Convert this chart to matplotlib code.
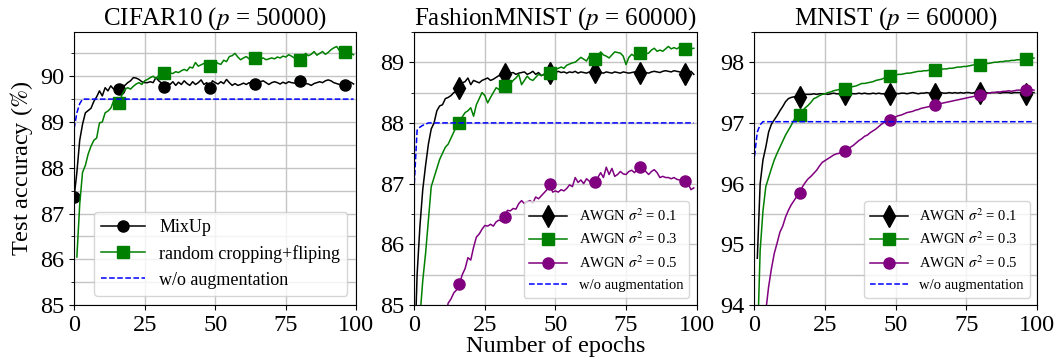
import numpy as np
import matplotlib
matplotlib.use("Agg")
import matplotlib.pyplot as plt
from matplotlib.ticker import MultipleLocator

plt.rcParams['font.family'] = ['Liberation Serif', 'DejaVu Serif']
plt.rcParams['mathtext.fontset'] = 'stix'

nan = np.nan
epochs = np.arange(100)

# ---------------- CIFAR10 ----------------
cifar_mixup = [87.35, 87.9, 88.6, 88.95, 89.2, 89.25, 89.3, 89.45, 89.55, 89.68,
               89.57, 89.75, 89.68, 89.79, 89.72, 89.76, 89.73, 89.79, 89.8, 89.86,
               89.9, 89.97, 89.96, 89.93, 89.88, 89.86, 89.86, 89.88, 89.86, 89.97,
               89.9, 89.85, 89.77, 89.86, 89.82, 89.88, 89.8, 89.87, 89.82, 89.9,
               89.84, 89.8, 89.88, 89.82, 89.86, 89.92, 89.82, 89.86, 89.75, 89.9,
               89.86, 89.83, 89.88, 89.84, 89.93, 89.86, 89.8, 89.84, 89.8, 89.82,
               89.85, 89.82, 89.86, 89.84, 89.83, 89.86, 89.88, 89.9, 89.86, 89.82,
               89.86, 89.88, 89.86, 89.83, 89.87, 89.84, 89.88, 89.86, 89.85, 89.88,
               89.9, 89.86, 89.84, 89.83, 89.8, 89.84, 89.86, 89.88, 89.86, 89.9,
               89.92, 89.9, 89.86, 89.84, 89.82, 89.8, 89.8, 89.84, 89.87, 89.83]
cifar_crop = [nan, 86.05, 87.2, 87.9, 88.05, 88.3, 88.47, 88.6, 88.65, 88.98,
              89.0, 89.2, 89.24, 89.3, 89.46, 89.35, 89.41, 89.6, 89.71, 89.75,
              89.72, 89.78, 89.83, 89.86, 89.82, 89.9, 89.93, 89.97, 90.0, 89.95,
              90.02, 90.0, 90.07, 90.05, 90.07, 90.06, 90.1, 90.08, 90.12, 90.15,
              90.12, 90.2, 90.18, 90.3, 90.22, 90.25, 90.28, 90.2, 90.23, 90.3,
              90.33, 90.28, 90.26, 90.35, 90.32, 90.43, 90.45, 90.5, 90.42, 90.36,
              90.4, 90.43, 90.38, 90.35, 90.4, 90.42, 90.38, 90.4, 90.36, 90.38,
              90.4, 90.38, 90.42, 90.4, 90.44, 90.42, 90.47, 90.44, 90.4, 90.42,
              90.36, 90.42, 90.5, 90.45, 90.48, 90.54, 90.46, 90.5, 90.54, 90.48,
              90.52, 90.58, 90.62, 90.65, 90.56, 90.6, 90.54, 90.5, 90.5, 90.47]
cifar_none_x = [0, 1, 2, 3, 4, 99]
cifar_none = [88.85, 89.2, 89.4, 89.5, 89.5, 89.5]

# ---------------- FashionMNIST ----------------
fm_01 = [84.0, 85.5, 86.3, 86.9, 87.3, 87.65, 87.9, 88.0, 88.2, 88.28,
         88.3, 88.4, 88.42, 88.45, 88.5, 88.52, 88.58, 88.66, 88.68, 88.74,
         88.63, 88.7, 88.68, 88.66, 88.7, 88.72, 88.74, 88.7, 88.72, 88.75,
         88.78, 88.76, 88.8, 88.78, 88.82, 88.83, 88.8, 88.82, 88.83, 88.84,
         88.8, 88.82, 88.85, 88.8, 88.83, 88.78, 88.8, 88.82, 88.82, 88.84,
         88.83, 88.85, 88.83, 88.84, 88.82, 88.84, 88.83, 88.85, 88.82, 88.84,
         88.83, 88.82, 88.84, 88.83, 88.84, 88.85, 88.83, 88.82, 88.84, 88.83,
         88.82, 88.84, 88.83, 88.82, 88.84, 88.83, 88.82, 88.83, 88.84, 88.82,
         88.82, 88.84, 88.83, 88.82, 88.84, 88.85, 88.84, 88.83, 88.85, 88.86,
         88.85, 88.84, 88.86, 88.85, 88.84, 88.83, 88.8, 88.82, 88.85, 88.8]
fm_03 = [82.5, 83.8, 84.8, 85.4, 85.85, 86.4, 86.95, 87.1, 87.25, 87.4,
         87.5, 87.6, 87.65, 87.75, 87.85, 87.95, 88.0, 88.1, 88.17, 88.2,
         88.25, 88.11, 88.3, 88.4, 88.5, 88.45, 88.33, 88.42, 88.5, 88.58,
         88.55, 88.62, 88.6, 88.66, 88.64, 88.7, 88.74, 88.8, 88.63, 88.7,
         88.77, 88.72, 88.7, 88.75, 88.8, 88.78, 88.8, 88.85, 88.82, 88.85,
         88.88, 88.9, 88.92, 88.9, 88.95, 88.97, 88.99, 89.0, 89.04, 89.08,
         89.05, 89.02, 89.1, 89.08, 89.05, 89.1, 89.17, 89.12, 89.1, 89.07,
         89.12, 89.17, 89.16, 89.15, 89.1, 88.96, 89.08, 89.13, 89.1, 89.12,
         89.15, 89.18, 89.14, 89.15, 89.2, 89.23, 89.18, 89.2, 89.18, 89.22,
         89.26, 89.22, 89.24, 89.22, 89.25, 89.23, 89.21, 89.24, 89.22, 89.23]
fm_05 = [78.0, 79.5, 80.5, 81.3, 82.0, 82.6, 83.1, 83.5, 83.9, 84.2,
         84.5, 84.8, 85.03, 85.1, 85.2, 85.25, 85.35, 85.5, 85.6, 85.78,
         85.74, 85.95, 86.12, 86.17, 86.25, 86.31, 86.3, 86.33, 86.3, 86.37,
         86.4, 86.38, 86.45, 86.56, 86.55, 86.59, 86.58, 86.67, 86.72, 86.67,
         86.7, 86.72, 86.68, 86.78, 86.75, 86.8, 86.85, 86.9, 87.0, 86.86,
         86.88, 86.86, 86.9, 86.88, 86.92, 86.98, 86.95, 87.1, 87.02, 87.06,
         87.0, 87.08, 87.04, 86.98, 87.02, 87.1, 87.18, 87.1, 87.27, 87.15,
         87.25, 87.12, 87.15, 87.2, 87.16, 87.15, 87.2, 87.22, 87.18, 87.24,
         87.27, 87.22, 87.2, 87.15, 87.2, 87.23, 87.18, 87.1, 87.12, 87.1,
         87.1, 87.08, 87.1, 87.07, 87.06, 87.05, 87.04, 87.0, 86.9, 86.93]
fm_none_x = [0, 1, 2, 3, 5, 99]
fm_none = [87.0, 87.88, 87.93, 87.96, 88.0, 88.0]

# ---------------- MNIST ----------------
mn_01 = [nan, 94.77, 96.0, 96.39, 96.6, 96.85, 96.98, 97.05, 97.12, 97.2,
         97.27, 97.35, 97.4, 97.42, 97.43, 97.43, 97.43, 97.45, 97.47, 97.47,
         97.47, 97.48, 97.47, 97.48, 97.48, 97.48, 97.47, 97.48, 97.49, 97.48,
         97.48, 97.49, 97.48, 97.48, 97.49, 97.48, 97.48, 97.49, 97.48, 97.49,
         97.48, 97.48, 97.49, 97.48, 97.49, 97.48, 97.48, 97.49, 97.48, 97.48,
         97.49, 97.48, 97.49, 97.49, 97.48, 97.49, 97.5, 97.49, 97.48, 97.49,
         97.49, 97.5, 97.49, 97.49, 97.48, 97.49, 97.5, 97.49, 97.49, 97.5,
         97.49, 97.5, 97.49, 97.5, 97.49, 97.5, 97.5, 97.49, 97.5, 97.5,
         97.49, 97.5, 97.5, 97.49, 97.5, 97.5, 97.5, 97.49, 97.5, 97.5,
         97.5, 97.49, 97.5, 97.5, 97.5, 97.49, 97.48, 97.5, 97.5, 97.5]
mn_03 = [nan, 93.3, 94.9, 95.55, 95.95, 96.1, 96.25, 96.39, 96.5, 96.6,
         96.7, 96.8, 96.88, 96.96, 97.05, 97.1, 97.13, 97.2, 97.25, 97.29,
         97.34, 97.4, 97.42, 97.45, 97.47, 97.48, 97.5, 97.51, 97.53, 97.54,
         97.55, 97.56, 97.56, 97.58, 97.59, 97.6, 97.61, 97.63, 97.65, 97.65,
         97.66, 97.67, 97.68, 97.7, 97.71, 97.72, 97.74, 97.76, 97.78, 97.77,
         97.79, 97.8, 97.8, 97.81, 97.82, 97.82, 97.83, 97.84, 97.85, 97.85,
         97.86, 97.86, 97.87, 97.86, 97.87, 97.88, 97.88, 97.89, 97.89, 97.9,
         97.9, 97.91, 97.92, 97.92, 97.93, 97.93, 97.94, 97.95, 97.96, 97.96,
         97.96, 97.97, 97.98, 97.98, 97.99, 98.0, 98.0, 98.01, 98.01, 98.02,
         98.02, 98.03, 98.03, 98.04, 98.04, 98.05, 98.05, 98.06, 98.06, 98.07]
mn_05 = [91.0, 92.0, 92.9, 93.5, 93.9, 94.3, 94.6, 94.85, 95.02, 95.2,
         95.3, 95.45, 95.56, 95.65, 95.72, 95.79, 95.85, 95.95, 96.02, 96.08,
         96.12, 96.17, 96.22, 96.29, 96.35, 96.38, 96.41, 96.44, 96.47, 96.49,
         96.5, 96.52, 96.54, 96.57, 96.6, 96.63, 96.67, 96.71, 96.74, 96.78,
         96.8, 96.84, 96.87, 96.9, 96.94, 96.98, 97.01, 97.03, 97.05, 97.08,
         97.1, 97.12, 97.13, 97.15, 97.17, 97.18, 97.19, 97.21, 97.22, 97.24,
         97.25, 97.26, 97.27, 97.28, 97.29, 97.3, 97.32, 97.33, 97.34, 97.35,
         97.36, 97.37, 97.38, 97.39, 97.4, 97.41, 97.42, 97.43, 97.44, 97.45,
         97.46, 97.47, 97.48, 97.49, 97.5, 97.5, 97.51, 97.51, 97.52, 97.52,
         97.53, 97.52, 97.53, 97.54, 97.54, 97.53, 97.54, 97.55, 97.55, 97.54]
mn_none_x = [0, 1, 2, 3, 99]
mn_none = [96.45, 96.85, 96.97, 97.02, 97.02]

titles = ['CIFAR10 ($p$ = 50000)', 'FashionMNIST ($p$ = 60000)', 'MNIST ($p$ = 60000)']
ylims = [(85, 90.97), (85, 89.5), (94, 98.5)]
xticks = [0, 25, 50, 75, 100]

fig, axes = plt.subplots(1, 3, figsize=(10.58, 3.58), dpi=100)
fig.subplots_adjust(left=0.070, right=0.980, top=0.911, bottom=0.148, wspace=0.205)

ms = 8
lw = 1.1
# Panel 1
ax = axes[0]
ax.plot(epochs, cifar_mixup, color='k', marker='o', markevery=16, ms=ms, lw=lw, label='MixUp')
ax.plot(epochs, cifar_crop, color='g', marker='s', markevery=16, ms=ms, lw=lw, label='random cropping+fliping')
ax.plot(cifar_none_x, cifar_none, color='b', ls='--', lw=lw, label='w/o augmentation')
ax.legend(loc='lower right', fontsize=13, handlelength=2.4)

# Panel 2
ax = axes[1]
ax.plot(epochs, fm_01, color='k', marker='d', markevery=16, ms=ms + 3, lw=lw, label=r'AWGN $\sigma^2$ = 0.1')
ax.plot(epochs, fm_03, color='g', marker='s', markevery=16, ms=ms, lw=lw, label=r'AWGN $\sigma^2$ = 0.3')
ax.plot(epochs, fm_05, color='purple', marker='o', markevery=16, ms=ms, lw=lw, label=r'AWGN $\sigma^2$ = 0.5')
ax.plot(fm_none_x, fm_none, color='b', ls='--', lw=lw, label='w/o augmentation')
ax.legend(loc='lower right', fontsize=10.5, handlelength=2.6)

# Panel 3
ax = axes[2]
ax.plot(epochs, mn_01, color='k', marker='d', markevery=16, ms=ms + 3, lw=lw, label=r'AWGN $\sigma^2$ = 0.1')
ax.plot(epochs, mn_03, color='g', marker='s', markevery=16, ms=ms, lw=lw, label=r'AWGN $\sigma^2$ = 0.3')
ax.plot(epochs, mn_05, color='purple', marker='o', markevery=16, ms=ms, lw=lw, label=r'AWGN $\sigma^2$ = 0.5')
ax.plot(mn_none_x, mn_none, color='b', ls='--', lw=lw, label='w/o augmentation')
ax.legend(loc='lower right', fontsize=10.5, handlelength=2.6)

for ax, t, yl in zip(axes, titles, ylims):
    ax.set_title(t, fontsize=18, pad=4)
    ax.set_xlim(0, 100)
    ax.set_ylim(*yl)
    ax.set_xticks(xticks)
    ax.yaxis.set_major_locator(MultipleLocator(1))
    ax.yaxis.set_minor_locator(MultipleLocator(0.5))
    ax.grid(True, which='major', color='#c4c4c4', lw=1.0)
    ax.yaxis.grid(True, which='minor', color='#c4c4c4', lw=1.0)
    ax.set_axisbelow(True)
    ax.tick_params(axis='both', which='major', labelsize=17.5)

axes[0].set_ylabel(r'Test accuracy ($\%$)', fontsize=17.5)
axes[1].set_xlabel('Number of epochs', fontsize=17.5, labelpad=0)

fig.savefig('out.png', dpi=100)
